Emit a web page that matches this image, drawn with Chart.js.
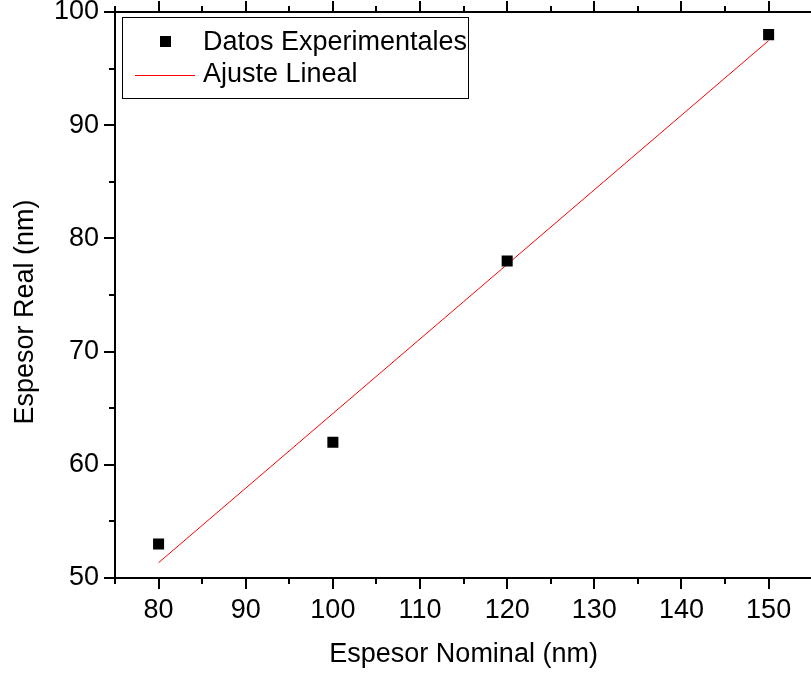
<!DOCTYPE html>
<html>
<head>
<meta charset="utf-8">
<title>Espesor Real vs Nominal</title>
<script src="https://cdn.jsdelivr.net/npm/chart.js"></script>
<style>
    html, body { margin: 0; padding: 0; overflow: hidden; background: #fff; }
    #wrap { width: 820px; height: 674px; }
</style>
</head>
<body>
<div id="wrap"><canvas id="chart" width="820" height="674"></canvas></div>
<script>
// data
const nominal = [80, 100, 120, 150];
const real = [53, 62, 78, 98];
const fitX = [80, 150];
const fitY = [51.35, 97.47];
const xTicks = [80, 90, 100, 110, 120, 130, 140, 150];
const yTicks = [50, 60, 70, 80, 90, 100];

const FONT = 'Liberation Sans, Arial, sans-serif';
const FSIZE = 27;

// frame + outward ticks (major every 10, minor every 5)
const frameTicks = {
    id: 'frameTicks',
    afterDraw(chart) {
        const { ctx, chartArea: a, scales: { x, y } } = chart;
        ctx.save();
        ctx.strokeStyle = '#000';
        ctx.lineWidth = 2;
        ctx.strokeRect(a.left, a.top, a.right - a.left, a.bottom - a.top);
        for (let v = x.min; v <= x.max; v += 5) {
            const px = Math.round(x.getPixelForValue(v));
            const len = v % 10 === 0 ? 11 : 6;
            ctx.beginPath();
            ctx.moveTo(px, a.bottom); ctx.lineTo(px, a.bottom + len);
            ctx.moveTo(px, a.top); ctx.lineTo(px, a.top - len);
            ctx.stroke();
        }
        for (let v = y.min; v <= y.max; v += 5) {
            const py = Math.round(y.getPixelForValue(v));
            const len = v % 10 === 0 ? 11 : 6;
            ctx.beginPath();
            ctx.moveTo(a.left, py); ctx.lineTo(a.left - len, py);
            ctx.moveTo(a.right, py); ctx.lineTo(a.right + len, py);
            ctx.stroke();
        }

        // y title sits a bit below the middle of the axis, like the original
        ctx.translate(26, (a.top + a.bottom) / 2 + 17);
        ctx.rotate(-Math.PI / 2);
        ctx.font = FSIZE + 'px ' + FONT;
        ctx.fillStyle = '#000';
        ctx.textAlign = 'center';
        ctx.textBaseline = 'middle';
        ctx.fillText('Espesor Real (nm)', 0, 0);
        ctx.restore();
    }
};

// legend box in the upper left corner of the plot
const boxLegend = {
    id: 'boxLegend',
    afterDraw(chart) {
        const { ctx, chartArea: a } = chart;
        const ds = chart.data.datasets;
        const bx = a.left + 7, by = a.top + 5, bw = 346, bh = 81;
        ctx.save();
        ctx.fillStyle = '#fff';
        ctx.fillRect(bx, by, bw, bh);
        ctx.strokeStyle = '#000';
        ctx.lineWidth = 1;
        ctx.strokeRect(bx + 0.5, by + 0.5, bw, bh);

        ctx.font = FSIZE + 'px ' + FONT;
        ctx.textBaseline = 'middle';
        ctx.fillStyle = '#000';
        // row 1: marker
        ctx.fillRect(bx + 38, by + 19, 11, 11);
        ctx.fillText(ds[0].label, bx + 81, by + 26);
        // row 2: line
        ctx.strokeStyle = ds[1].borderColor;
        ctx.beginPath();
        ctx.moveTo(bx + 13, by + 58.5); ctx.lineTo(bx + 73, by + 58.5);
        ctx.stroke();
        ctx.fillText(ds[1].label, bx + 81, by + 58);
        ctx.restore();
    }
};

const ctx = document.getElementById('chart').getContext('2d');
new Chart(ctx, {
    type: 'scatter',
    data: {
        datasets: [{
            label: 'Datos Experimentales',
            data: nominal.map((v, i) => ({ x: v, y: real[i] })),
            pointStyle: 'rect',
            pointRadius: 7.8,
            pointBackgroundColor: '#000',
            pointBorderWidth: 0,
            showLine: false
        }, {
            label: 'Ajuste Lineal',
            data: fitX.map((v, i) => ({ x: v, y: fitY[i] })),
            showLine: true,
            borderColor: '#ff0000',
            borderWidth: 1,
            pointRadius: 0
        }]
    },
    options: {
        responsive: false,
        animation: false,
        devicePixelRatio: 1,
        layout: { padding: { left: 0, top: 12, right: 5.5, bottom: 0 } },
        plugins: { legend: { display: false }, tooltip: { enabled: false } },
        scales: {
            x: {
                min: 75, max: 155,
                afterBuildTicks: (s) => { s.ticks = xTicks.map(v => ({ value: v })); },
                afterFit: (s) => { s.height = 96; s.paddingLeft = 0; s.paddingRight = 0; },
                grid: { display: false, drawTicks: false },
                border: { display: false },
                ticks: { color: '#000', font: { family: FONT, size: FSIZE }, padding: 16, maxRotation: 0 },
                title: { display: true, text: 'Espesor Nominal (nm)', color: '#000',
                         font: { family: FONT, size: FSIZE }, padding: { top: 0, bottom: 3 } }
            },
            y: {
                min: 50, max: 100,
                afterBuildTicks: (s) => { s.ticks = yTicks.map(v => ({ value: v })); },
                afterFit: (s) => { s.width = 115; s.paddingTop = 0; s.paddingBottom = 0; },
                grid: { display: false, drawTicks: false },
                border: { display: false },
                ticks: { color: '#000', font: { family: FONT, size: FSIZE }, padding: 16 }
            }
        }
    },
    plugins: [frameTicks, boxLegend]
});
</script>
</body>
</html>
